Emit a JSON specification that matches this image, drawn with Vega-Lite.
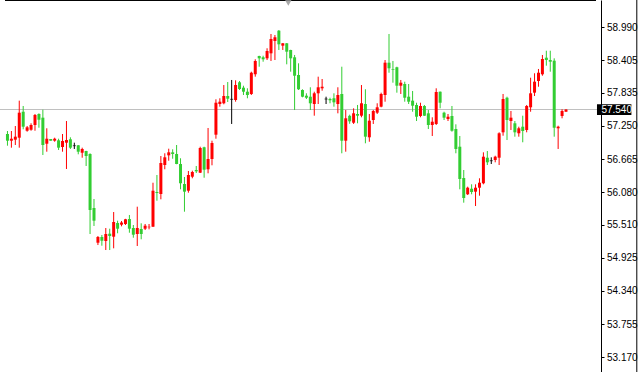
{
  "$schema": "https://vega.github.io/schema/vega-lite/v6.json",
  "width": 601,
  "height": 372,
  "autosize": {"type": "none"},
  "padding": {"left": 0, "top": 0, "right": 43, "bottom": 0},
  "background": "#ffffff",
  "config": {"view": {"stroke": null}, "axis": {"labelOverlap": false, "labelBound": false, "labelFlush": false}},
  "datasets": {
    "candles": [
      {"i":0,"o":57.108,"h":57.161,"l":56.902,"c":56.990},
      {"i":1,"o":56.990,"h":57.161,"l":56.867,"c":57.025},
      {"i":2,"o":57.008,"h":57.249,"l":56.914,"c":57.061},
      {"i":3,"o":57.043,"h":57.696,"l":56.867,"c":57.484},
      {"i":4,"o":57.501,"h":57.602,"l":57.191,"c":57.237},
      {"i":5,"o":57.166,"h":57.249,"l":57.149,"c":57.226},
      {"i":6,"o":57.184,"h":57.297,"l":57.166,"c":57.267},
      {"i":7,"o":57.267,"h":57.461,"l":57.166,"c":57.443},
      {"i":8,"o":57.461,"h":57.473,"l":57.219,"c":57.360},
      {"i":9,"o":57.396,"h":57.537,"l":56.738,"c":56.914},
      {"i":10,"o":56.937,"h":57.209,"l":56.796,"c":57.025},
      {"i":11,"o":57.020,"h":57.020,"l":56.990,"c":56.990},
      {"i":12,"o":56.990,"h":57.043,"l":56.972,"c":57.025},
      {"i":13,"o":56.997,"h":57.025,"l":56.826,"c":56.867},
      {"i":14,"o":56.879,"h":57.108,"l":56.796,"c":56.985},
      {"i":15,"o":56.955,"h":57.337,"l":56.491,"c":57.002},
      {"i":16,"o":57.015,"h":57.050,"l":56.844,"c":56.867},
      {"i":17,"o":56.902,"h":56.955,"l":56.844,"c":56.902},
      {"i":18,"o":56.909,"h":56.914,"l":56.750,"c":56.796},
      {"i":19,"o":56.778,"h":56.867,"l":56.690,"c":56.844},
      {"i":20,"o":56.808,"h":56.812,"l":56.544,"c":56.720},
      {"i":21,"o":56.755,"h":56.768,"l":55.344,"c":55.768},
      {"i":22,"o":55.803,"h":55.962,"l":55.486,"c":55.579},
      {"i":23,"o":55.191,"h":55.309,"l":55.150,"c":55.292},
      {"i":24,"o":55.292,"h":55.327,"l":55.138,"c":55.226},
      {"i":25,"o":55.221,"h":55.450,"l":55.062,"c":55.344},
      {"i":26,"o":55.350,"h":55.438,"l":55.062,"c":55.309},
      {"i":27,"o":55.297,"h":55.732,"l":55.092,"c":55.556},
      {"i":28,"o":55.538,"h":55.579,"l":55.357,"c":55.438},
      {"i":29,"o":55.509,"h":55.574,"l":55.480,"c":55.547},
      {"i":30,"o":55.521,"h":55.612,"l":55.503,"c":55.604},
      {"i":31,"o":55.609,"h":55.680,"l":55.367,"c":55.438},
      {"i":32,"o":55.450,"h":55.503,"l":55.279,"c":55.332},
      {"i":33,"o":55.344,"h":55.826,"l":55.133,"c":55.450},
      {"i":34,"o":55.433,"h":55.533,"l":55.251,"c":55.344},
      {"i":35,"o":55.438,"h":55.521,"l":55.415,"c":55.491},
      {"i":36,"o":55.463,"h":55.521,"l":55.427,"c":55.473},
      {"i":37,"o":55.473,"h":56.249,"l":55.470,"c":56.108},
      {"i":38,"o":56.085,"h":56.385,"l":55.932,"c":56.068},
      {"i":39,"o":56.050,"h":56.720,"l":55.956,"c":56.597},
      {"i":40,"o":56.561,"h":56.768,"l":56.486,"c":56.697},
      {"i":41,"o":56.732,"h":56.849,"l":56.637,"c":56.785},
      {"i":42,"o":56.785,"h":56.838,"l":56.672,"c":56.755},
      {"i":43,"o":56.755,"h":56.914,"l":56.575,"c":56.579},
      {"i":44,"o":56.579,"h":56.680,"l":56.133,"c":56.239},
      {"i":45,"o":56.226,"h":56.350,"l":55.738,"c":56.091},
      {"i":46,"o":56.108,"h":56.456,"l":56.073,"c":56.385},
      {"i":47,"o":56.355,"h":56.461,"l":56.327,"c":56.438},
      {"i":48,"o":56.473,"h":56.544,"l":56.420,"c":56.450},
      {"i":49,"o":56.426,"h":56.884,"l":56.420,"c":56.861},
      {"i":50,"o":56.874,"h":56.884,"l":56.337,"c":56.479},
      {"i":51,"o":56.486,"h":57.214,"l":56.415,"c":56.667},
      {"i":52,"o":56.667,"h":56.990,"l":56.556,"c":56.949},
      {"i":53,"o":57.096,"h":57.720,"l":57.025,"c":57.660},
      {"i":54,"o":57.637,"h":57.738,"l":57.590,"c":57.678},
      {"i":55,"o":57.650,"h":57.972,"l":57.632,"c":57.778},
      {"i":56,"o":57.778,"h":58.025,"l":57.673,"c":57.731},
      {"i":57,"o":57.720,"h":58.061,"l":57.285,"c":57.720},
      {"i":58,"o":57.708,"h":58.055,"l":57.678,"c":57.972},
      {"i":59,"o":58.020,"h":58.043,"l":57.884,"c":57.902},
      {"i":60,"o":57.925,"h":57.960,"l":57.796,"c":57.854},
      {"i":61,"o":57.854,"h":57.914,"l":57.738,"c":57.796},
      {"i":62,"o":57.814,"h":58.207,"l":57.796,"c":58.189},
      {"i":63,"o":58.161,"h":58.426,"l":58.119,"c":58.396},
      {"i":64,"o":58.484,"h":58.489,"l":58.295,"c":58.443},
      {"i":65,"o":58.461,"h":58.489,"l":58.383,"c":58.426},
      {"i":66,"o":58.443,"h":58.620,"l":58.413,"c":58.572},
      {"i":67,"o":58.531,"h":58.872,"l":58.396,"c":58.784},
      {"i":68,"o":58.748,"h":58.854,"l":58.413,"c":58.814},
      {"i":69,"o":58.930,"h":58.942,"l":58.590,"c":58.690},
      {"i":70,"o":58.666,"h":58.712,"l":58.590,"c":58.708},
      {"i":71,"o":58.708,"h":58.712,"l":58.337,"c":58.560},
      {"i":72,"o":58.590,"h":58.594,"l":58.207,"c":58.443},
      {"i":73,"o":58.461,"h":58.502,"l":57.531,"c":58.136},
      {"i":74,"o":58.149,"h":58.355,"l":57.884,"c":57.897},
      {"i":75,"o":57.884,"h":57.897,"l":57.755,"c":57.766},
      {"i":76,"o":57.784,"h":57.826,"l":57.725,"c":57.748},
      {"i":77,"o":57.766,"h":57.932,"l":57.531,"c":57.650},
      {"i":78,"o":57.637,"h":57.854,"l":57.431,"c":57.826},
      {"i":79,"o":57.826,"h":58.119,"l":57.637,"c":57.932},
      {"i":80,"o":57.914,"h":58.078,"l":57.872,"c":57.942},
      {"i":81,"o":57.725,"h":57.766,"l":57.637,"c":57.725},
      {"i":82,"o":57.725,"h":57.748,"l":57.650,"c":57.703},
      {"i":83,"o":57.738,"h":57.826,"l":57.590,"c":57.667},
      {"i":84,"o":57.637,"h":57.932,"l":57.473,"c":57.796},
      {"i":85,"o":57.814,"h":58.295,"l":56.768,"c":56.990},
      {"i":86,"o":56.990,"h":57.531,"l":56.796,"c":57.385},
      {"i":87,"o":57.429,"h":57.449,"l":57.288,"c":57.332},
      {"i":88,"o":57.307,"h":57.561,"l":57.285,"c":57.473},
      {"i":89,"o":57.461,"h":57.620,"l":57.297,"c":57.431},
      {"i":90,"o":57.431,"h":57.972,"l":57.403,"c":57.650},
      {"i":91,"o":57.637,"h":57.897,"l":56.944,"c":57.061},
      {"i":92,"o":57.050,"h":57.461,"l":56.972,"c":57.343},
      {"i":93,"o":57.355,"h":57.531,"l":57.285,"c":57.514},
      {"i":94,"o":57.484,"h":57.650,"l":57.461,"c":57.579},
      {"i":95,"o":57.590,"h":57.837,"l":57.579,"c":57.814},
      {"i":96,"o":57.796,"h":58.413,"l":57.678,"c":58.366},
      {"i":97,"o":58.366,"h":58.872,"l":58.189,"c":58.267},
      {"i":98,"o":58.249,"h":58.396,"l":58.013,"c":58.237},
      {"i":99,"o":58.285,"h":58.295,"l":57.837,"c":57.960},
      {"i":100,"o":57.960,"h":58.061,"l":57.814,"c":58.013},
      {"i":101,"o":57.990,"h":58.031,"l":57.678,"c":57.748},
      {"i":102,"o":57.766,"h":57.990,"l":57.637,"c":57.678},
      {"i":103,"o":57.696,"h":57.867,"l":57.501,"c":57.607},
      {"i":104,"o":57.620,"h":57.660,"l":57.337,"c":57.413},
      {"i":105,"o":57.426,"h":57.660,"l":57.403,"c":57.602},
      {"i":106,"o":57.602,"h":57.620,"l":57.426,"c":57.431},
      {"i":107,"o":57.473,"h":57.531,"l":57.196,"c":57.267},
      {"i":108,"o":57.267,"h":57.403,"l":57.073,"c":57.325},
      {"i":109,"o":57.285,"h":57.914,"l":57.267,"c":57.849},
      {"i":110,"o":57.854,"h":57.858,"l":57.561,"c":57.660},
      {"i":111,"o":57.484,"h":57.501,"l":57.355,"c":57.396},
      {"i":112,"o":57.373,"h":57.461,"l":57.337,"c":57.413},
      {"i":113,"o":57.426,"h":57.602,"l":57.149,"c":57.166},
      {"i":114,"o":57.196,"h":57.279,"l":56.768,"c":56.844},
      {"i":115,"o":56.884,"h":57.073,"l":56.133,"c":56.315},
      {"i":116,"o":56.332,"h":56.473,"l":55.897,"c":55.979},
      {"i":117,"o":56.045,"h":56.179,"l":56.032,"c":56.161},
      {"i":118,"o":56.143,"h":56.221,"l":56.045,"c":56.085},
      {"i":119,"o":56.091,"h":56.221,"l":55.838,"c":56.161},
      {"i":120,"o":56.161,"h":56.327,"l":56.020,"c":56.249},
      {"i":121,"o":56.239,"h":56.785,"l":56.221,"c":56.708},
      {"i":122,"o":56.690,"h":56.808,"l":56.561,"c":56.609},
      {"i":123,"o":56.637,"h":56.697,"l":56.579,"c":56.637},
      {"i":124,"o":56.650,"h":56.725,"l":56.609,"c":56.708},
      {"i":125,"o":56.690,"h":57.138,"l":56.561,"c":57.121},
      {"i":126,"o":57.138,"h":57.814,"l":57.078,"c":57.725},
      {"i":127,"o":57.748,"h":57.766,"l":57.002,"c":57.355},
      {"i":128,"o":57.337,"h":57.514,"l":57.179,"c":57.396},
      {"i":129,"o":57.297,"h":57.337,"l":57.061,"c":57.138},
      {"i":130,"o":57.121,"h":57.237,"l":57.061,"c":57.209},
      {"i":131,"o":57.237,"h":57.431,"l":56.962,"c":57.161},
      {"i":132,"o":57.179,"h":57.620,"l":57.138,"c":57.602},
      {"i":133,"o":57.579,"h":58.101,"l":57.501,"c":57.826},
      {"i":134,"o":57.837,"h":58.179,"l":57.778,"c":58.031},
      {"i":135,"o":58.043,"h":58.255,"l":57.942,"c":58.189},
      {"i":136,"o":58.161,"h":58.502,"l":58.136,"c":58.431},
      {"i":137,"o":58.454,"h":58.577,"l":58.313,"c":58.413},
      {"i":138,"o":58.413,"h":58.577,"l":58.207,"c":58.383},
      {"i":139,"o":58.401,"h":58.443,"l":57.061,"c":57.219},
      {"i":140,"o":57.209,"h":57.254,"l":56.844,"c":57.237},
      {"i":141,"o":57.426,"h":57.544,"l":57.385,"c":57.514},
      {"i":142,"o":57.501,"h":57.545,"l":57.501,"c":57.540}
    ],
    "one": [{}]
  },
  "layer": [
    {
      "data": {"name": "one"},
      "mark": {"type": "rule", "color": "#c0c0c0", "strokeWidth": 1},
      "encoding": {"y": {"datum": 57.54, "scale": {"domain": [52.9106, 59.4715], "nice": false, "zero": false},
              "axis": {"orient": "right", "values": [58.99, 58.405, 57.835, 57.25, 56.665, 56.08, 55.51, 54.925, 54.34, 53.755, 53.17],
                       "tickCount": 30,
                       "format": ".3f", "grid": false, "domainColor": "#000000", "tickColor": "#000000", "tickSize": 3, "labelPadding": 2.5,
                       "labelOverlap": false, "labelBound": false, "labelFlush": false,
                       "labelFont": "Liberation Sans", "labelFontSize": 10, "labelColor": "#000000", "title": null}}}
    },
    {
      "data": {"name": "candles"},
      "mark": {"type": "rule", "strokeWidth": 1},
      "encoding": {
        "x": {"field": "i", "type": "quantitative", "scale": {"domain": [-0.625, 149.625], "nice": false, "zero": false}, "axis": null},
        "y": {"field": "l", "type": "quantitative", "title": null, "scale": {"domain": [52.9106, 59.4715], "nice": false, "zero": false},
              "axis": {"orient": "right", "values": [58.99, 58.405, 57.835, 57.25, 56.665, 56.08, 55.51, 54.925, 54.34, 53.755, 53.17],
                       "tickCount": 30,
                       "format": ".3f", "grid": false, "domainColor": "#000000", "tickColor": "#000000", "tickSize": 3, "labelPadding": 2.5,
                       "labelOverlap": false, "labelBound": false, "labelFlush": false,
                       "labelFont": "Liberation Sans", "labelFontSize": 10, "labelColor": "#000000", "title": null}},
        "y2": {"field": "h"},
        "color": {"condition": [{"test": "datum.c > datum.o", "value": "#ff0000"}, {"test": "datum.c < datum.o", "value": "#32cd32"}], "value": "#000000"}
      }
    },
    {
      "data": {"name": "candles"},
      "mark": {"type": "bar", "size": 3},
      "encoding": {
        "x": {"field": "i", "type": "quantitative", "scale": {"domain": [-0.625, 149.625], "nice": false, "zero": false}},
        "y": {"field": "o", "type": "quantitative", "title": null, "scale": {"domain": [52.9106, 59.4715], "nice": false, "zero": false}},
        "y2": {"field": "c"},
        "color": {"condition": [{"test": "datum.c > datum.o", "value": "#ff0000"}, {"test": "datum.c < datum.o", "value": "#32cd32"}], "value": "#000000"}
      }
    },
    {
      "data": {"name": "candles"},
      "transform": [{"filter": "datum.o == datum.c"}],
      "mark": {"type": "tick", "orient": "horizontal", "size": 3, "thickness": 1, "color": "#000000"},
      "encoding": {
        "x": {"field": "i", "type": "quantitative", "scale": {"domain": [-0.625, 149.625], "nice": false, "zero": false}},
        "y": {"field": "c", "type": "quantitative", "title": null, "scale": {"domain": [52.9106, 59.4715], "nice": false, "zero": false}}
      }
    },
    {
      "data": {"name": "one"},
      "mark": {"type": "rule", "color": "#000000", "strokeWidth": 1, "clip": false},
      "encoding": {"y": {"datum": 59.4627}, "x": {"datum": -0.625}, "x2": {"datum": 149.625}}
    },
    {
      "data": {"name": "one"},
      "mark": {"type": "rect", "color": "#000000", "clip": false},
      "encoding": {"x": {"datum": 149.875}, "x2": {"datum": 158.625}, "y": {"datum": 57.635}, "y2": {"datum": 57.445}}
    },
    {
      "data": {"name": "one"},
      "mark": {"type": "text", "text": "57.540", "color": "#ffffff", "align": "left", "baseline": "middle", "font": "Liberation Sans", "fontSize": 10, "clip": false},
      "encoding": {"x": {"datum": 151.0}, "y": {"datum": 57.54}}
    },
    {
      "data": {"name": "one"},
      "mark": {"type": "point", "shape": "triangle-down", "filled": true, "color": "#a8a8a8", "size": 40, "opacity": 1, "clip": false},
      "encoding": {"x": {"datum": 71.4}, "y": {"datum": 59.419}}
    },
    {
      "data": {"name": "one"},
      "mark": {"type": "rule", "color": "#000000", "strokeWidth": 1, "clip": false},
      "encoding": {"x": {"datum": 160}}
    }
  ]
}
